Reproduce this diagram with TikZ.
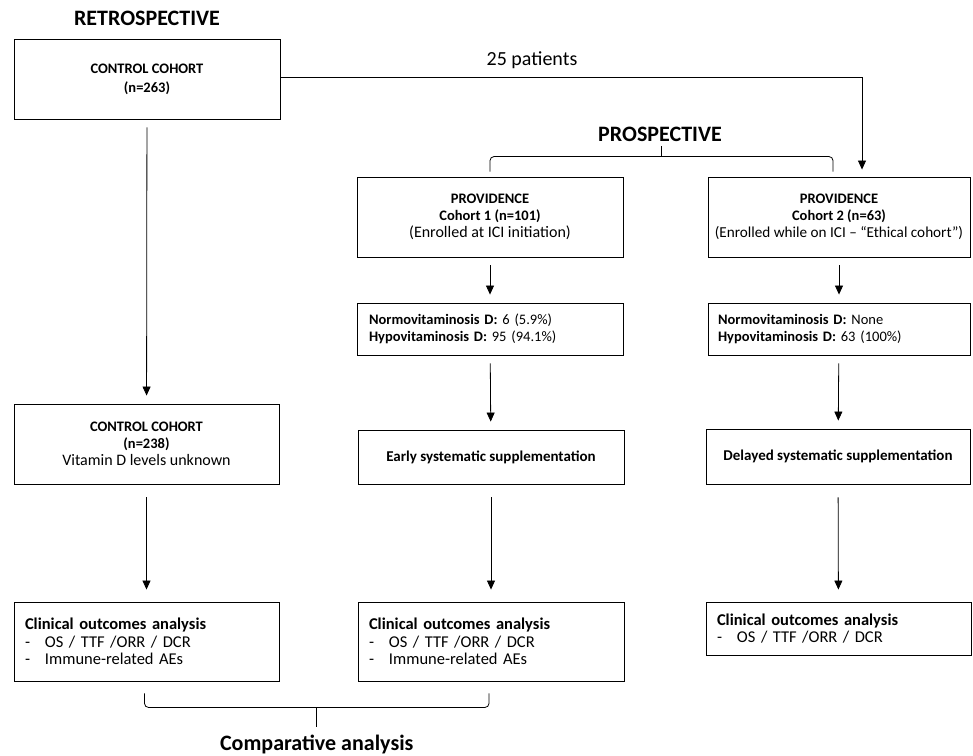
\documentclass[tikz,border=0pt]{standalone}
\usepackage{fontspec}
\setmainfont{Carlito}
\usetikzlibrary{arrows.meta,calc}

\tikzset{
  cbox/.style={draw, line width=0.9pt, align=center, inner sep=0pt,
    font=\fontsize{14.5}{17}\selectfont},
  lbox/.style={draw, line width=0.9pt, align=left, inner ysep=0pt,
    font=\fontsize{14.5}{17}\selectfont},
  outbox/.style={lbox, font=\fontsize{16.5}{17.5}\selectfont},
  bigtitle/.style={inner sep=0pt, font=\fontsize{22}{24}\selectfont\bfseries},
  arr/.style={line width=0.8pt, -{Triangle[length=9pt,width=8pt]},
    shorten <=8pt, shorten >=8pt},
  bracket/.style={line width=0.8pt, rounded corners=4pt},
}
\newcommand{\dashitem}[1]{\makebox[20pt][l]{-}#1}
\newcommand{\plainline}[1]{{\fontsize{16}{18}\selectfont #1}}

\begin{document}
\begin{tikzpicture}[x=1pt,y=-1pt]
\useasboundingbox (0,0) rectangle (973,755);

% retrospective column
\node[bigtitle] (retro) at (147,18) {RETROSPECTIVE};
\node[cbox, minimum width=266pt, minimum height=80pt] (ctrl1) at (147,79)
  {\textbf{CONTROL COHORT}\\[2pt]\textbf{(n=263)}};
\node[cbox, minimum width=265pt, minimum height=80pt] (ctrl2) at (146.5,444)
  {\textbf{CONTROL COHORT}\\\textbf{(n=238)}\\\plainline{Vitamin D levels unknown}};
\node[outbox, text width=243pt, inner xsep=11pt, minimum height=79pt] (clin1) at (146.5,641.5)
  {\textbf{Clinical outcomes analysis}\\\dashitem{OS / TTF /ORR / DCR}\\\dashitem{Immune-related AEs}};

% prospective columns
\node[bigtitle] (prosp) at (660,134) {PROSPECTIVE};
\node[cbox, minimum width=266pt, minimum height=80pt] (coh1) at (490,217)
  {\textbf{PROVIDENCE}\\\textbf{Cohort 1 (n=101)}\\\plainline{(Enrolled at ICI initiation)}};
\node[cbox, minimum width=262pt, minimum height=80pt] (coh2) at (839,217)
  {\textbf{PROVIDENCE}\\\textbf{Cohort 2 (n=63)}\\{\fontsize{15.2}{18}\selectfont(Enrolled while on ICI – “Ethical cohort”)}};
\node[lbox, text width=242pt, inner xsep=12pt, minimum height=52pt] (norm1) at (490,329)
  {\textbf{Normovitaminosis D:} 6 (5.9\%)\\\textbf{Hypovitaminosis D:} 95 (94.1\%)};
\node[lbox, text width=242pt, inner xsep=10pt, minimum height=52pt] (norm2) at (839,329)
  {\textbf{Normovitaminosis D:} None\\\textbf{Hypovitaminosis D:} 63 (100\%)};
\node[cbox, minimum width=266pt, minimum height=54pt, font=\fontsize{15}{17}\selectfont] (early) at (491,457)
  {\textbf{Early systematic supplementation}};
\node[cbox, minimum width=264pt, minimum height=55pt, font=\fontsize{15}{17}\selectfont] (delay) at (838,456.5)
  {\textbf{Delayed systematic supplementation}};
\node[outbox, text width=244pt, inner xsep=11pt, minimum height=79pt] (clin2) at (491,641.5)
  {\textbf{Clinical outcomes analysis}\\\dashitem{OS / TTF /ORR / DCR}\\\dashitem{Immune-related AEs}};
\node[outbox, text width=243pt, inner xsep=11pt, minimum height=53pt] (clin3) at (838.5,628.5)
  {\textbf{Clinical outcomes analysis}\\\dashitem{OS / TTF /ORR / DCR}};

% arrows
\draw[arr] (ctrl1) -- (ctrl2);
\draw[arr, shorten <=13pt, shorten >=12pt] (ctrl2) -- (clin1);
\draw[arr] (coh1) -- (norm1);
\draw[arr] (norm1) -- (early);
\draw[arr, shorten <=13pt, shorten >=12pt] (early) -- (clin2);
\draw[arr] (coh2) -- (norm2);
\draw[arr] (norm2) -- (delay);
\draw[arr, shorten <=13pt, shorten >=12pt] (delay) -- (clin3);

% 25 patients moved over to cohort 2
\draw[arr, shorten <=0pt, shorten >=7pt] ([yshift=2pt]ctrl1.east) -| ([xshift=23pt]coh2.north);
\node[font=\fontsize{20}{22}\selectfont, inner sep=0pt] (npat) at (532,60) {25 patients};

% brace over the prospective cohorts
\coordinate (pl) at ([yshift=5pt]coh1.north);
\coordinate (pr) at ([xshift=-6pt,yshift=5pt]coh2.north);
\draw[bracket] (pl) -- ++(0,-15) -| (pr);
\draw[line width=0.8pt] ($(pl)!0.5!(pr)+(0,-15)$) -- ++(0,-11);

% brace under the compared cohorts
\coordinate (bl) at ([xshift=-2pt,yshift=-12pt]clin1.south);
\coordinate (br) at ([xshift=-2pt,yshift=-12pt]clin2.south);
\draw[bracket] (bl) -- ++(0,14) -| (br);
\draw[line width=0.8pt] ($(bl)!0.5!(br)+(0,14)$) -- ++(0,20);
\node[bigtitle] (comp) at ($(bl)!0.5!(br)+(0,51)$) {Comparative analysis};
\end{tikzpicture}
\end{document}
